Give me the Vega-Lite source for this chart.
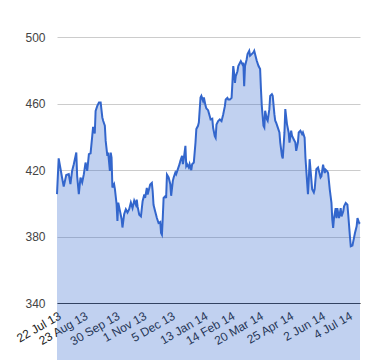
{
  "$schema": "https://vega.github.io/schema/vega-lite/v6.json",
  "autosize": "none",
  "width": 303,
  "height": 266,
  "padding": {"left": 57, "top": 37, "right": 20, "bottom": 57},
  "background": "white",
  "config": {"view": {"stroke": null}, "font": "Liberation Sans"},
  "data": {"values": [
    {"date": "2013-07-22", "close": 405.5},
    {"date": "2013-07-24", "close": 427},
    {"date": "2013-07-28", "close": 415.5},
    {"date": "2013-07-30", "close": 410},
    {"date": "2013-08-02", "close": 417},
    {"date": "2013-08-05", "close": 417.5},
    {"date": "2013-08-07", "close": 411.5},
    {"date": "2013-08-09", "close": 419.5},
    {"date": "2013-08-11", "close": 423.5},
    {"date": "2013-08-14", "close": 430.5},
    {"date": "2013-08-15", "close": 416.5},
    {"date": "2013-08-17", "close": 405.5},
    {"date": "2013-08-19", "close": 415.5},
    {"date": "2013-08-21", "close": 412.5},
    {"date": "2013-08-23", "close": 417.5},
    {"date": "2013-08-25", "close": 424.5},
    {"date": "2013-08-27", "close": 419.5},
    {"date": "2013-08-29", "close": 429.5},
    {"date": "2013-08-31", "close": 430},
    {"date": "2013-09-02", "close": 440.5},
    {"date": "2013-09-03", "close": 446},
    {"date": "2013-09-05", "close": 442},
    {"date": "2013-09-06", "close": 455.6},
    {"date": "2013-09-08", "close": 458.6},
    {"date": "2013-09-10", "close": 460.6},
    {"date": "2013-09-12", "close": 460.6},
    {"date": "2013-09-14", "close": 451.6},
    {"date": "2013-09-15", "close": 449.6},
    {"date": "2013-09-17", "close": 446.6},
    {"date": "2013-09-18", "close": 437.5},
    {"date": "2013-09-20", "close": 428.5},
    {"date": "2013-09-21", "close": 430.5},
    {"date": "2013-09-23", "close": 419.5},
    {"date": "2013-09-24", "close": 430.5},
    {"date": "2013-09-25", "close": 427.5},
    {"date": "2013-09-26", "close": 409.5},
    {"date": "2013-09-28", "close": 411.5},
    {"date": "2013-09-29", "close": 408.5},
    {"date": "2013-10-01", "close": 399.4},
    {"date": "2013-10-02", "close": 389.4},
    {"date": "2013-10-03", "close": 400.4},
    {"date": "2013-10-05", "close": 395.4},
    {"date": "2013-10-07", "close": 390.4},
    {"date": "2013-10-08", "close": 385.4},
    {"date": "2013-10-10", "close": 393.4},
    {"date": "2013-10-12", "close": 396.4},
    {"date": "2013-10-14", "close": 394.4},
    {"date": "2013-10-16", "close": 396.4},
    {"date": "2013-10-18", "close": 400.4},
    {"date": "2013-10-20", "close": 397.1},
    {"date": "2013-10-22", "close": 401.6},
    {"date": "2013-10-24", "close": 399.1},
    {"date": "2013-10-25", "close": 402.2},
    {"date": "2013-10-26", "close": 398.1},
    {"date": "2013-10-28", "close": 393.1},
    {"date": "2013-10-30", "close": 392.1},
    {"date": "2013-11-01", "close": 401.2},
    {"date": "2013-11-03", "close": 405.2},
    {"date": "2013-11-04", "close": 403.2},
    {"date": "2013-11-06", "close": 409.2},
    {"date": "2013-11-07", "close": 405.2},
    {"date": "2013-11-09", "close": 409.2},
    {"date": "2013-11-10", "close": 411.2},
    {"date": "2013-11-12", "close": 412.2},
    {"date": "2013-11-13", "close": 407.2},
    {"date": "2013-11-14", "close": 399.1},
    {"date": "2013-11-16", "close": 395.1},
    {"date": "2013-11-18", "close": 391.1},
    {"date": "2013-11-20", "close": 388.1},
    {"date": "2013-11-22", "close": 388.7},
    {"date": "2013-11-23", "close": 382.1},
    {"date": "2013-11-24", "close": 381.1},
    {"date": "2013-11-25", "close": 391.1},
    {"date": "2013-11-26", "close": 403.2},
    {"date": "2013-11-28", "close": 404.2},
    {"date": "2013-11-29", "close": 403.2},
    {"date": "2013-11-30", "close": 417.2},
    {"date": "2013-12-02", "close": 415.5},
    {"date": "2013-12-04", "close": 411.5},
    {"date": "2013-12-05", "close": 404.5},
    {"date": "2013-12-07", "close": 413.5},
    {"date": "2013-12-08", "close": 415.5},
    {"date": "2013-12-10", "close": 418.5},
    {"date": "2013-12-11", "close": 417.5},
    {"date": "2013-12-13", "close": 420.5},
    {"date": "2013-12-15", "close": 423.5},
    {"date": "2013-12-16", "close": 425.5},
    {"date": "2013-12-18", "close": 428.5},
    {"date": "2013-12-19", "close": 423.5},
    {"date": "2013-12-20", "close": 426.5},
    {"date": "2013-12-22", "close": 434.5},
    {"date": "2013-12-23", "close": 422.5},
    {"date": "2013-12-24", "close": 423.5},
    {"date": "2013-12-26", "close": 421.5},
    {"date": "2013-12-27", "close": 423.5},
    {"date": "2013-12-29", "close": 419.9},
    {"date": "2013-12-30", "close": 423.5},
    {"date": "2014-01-01", "close": 424.5},
    {"date": "2014-01-03", "close": 436.5},
    {"date": "2014-01-04", "close": 444.6},
    {"date": "2014-01-06", "close": 446.6},
    {"date": "2014-01-07", "close": 448.6},
    {"date": "2014-01-09", "close": 463.6},
    {"date": "2014-01-10", "close": 464.6},
    {"date": "2014-01-12", "close": 461.6},
    {"date": "2014-01-13", "close": 463.6},
    {"date": "2014-01-15", "close": 458.6},
    {"date": "2014-01-16", "close": 457},
    {"date": "2014-01-18", "close": 456},
    {"date": "2014-01-20", "close": 452.4},
    {"date": "2014-01-21", "close": 450.4},
    {"date": "2014-01-23", "close": 450.8},
    {"date": "2014-01-24", "close": 445.4},
    {"date": "2014-01-26", "close": 440.4},
    {"date": "2014-01-27", "close": 439.4},
    {"date": "2014-01-28", "close": 447.4},
    {"date": "2014-01-30", "close": 449.4},
    {"date": "2014-02-01", "close": 450.4},
    {"date": "2014-02-03", "close": 449.4},
    {"date": "2014-02-05", "close": 453.4},
    {"date": "2014-02-07", "close": 458.4},
    {"date": "2014-02-08", "close": 462.4},
    {"date": "2014-02-10", "close": 463.4},
    {"date": "2014-02-11", "close": 462.4},
    {"date": "2014-02-13", "close": 462.4},
    {"date": "2014-02-15", "close": 463.4},
    {"date": "2014-02-16", "close": 472.4},
    {"date": "2014-02-17", "close": 482.5},
    {"date": "2014-02-18", "close": 478.4},
    {"date": "2014-02-19", "close": 472.4},
    {"date": "2014-02-20", "close": 476.4},
    {"date": "2014-02-22", "close": 479.4},
    {"date": "2014-02-23", "close": 482.5},
    {"date": "2014-02-25", "close": 484.5},
    {"date": "2014-02-26", "close": 485.5},
    {"date": "2014-02-28", "close": 483.5},
    {"date": "2014-03-01", "close": 484.5},
    {"date": "2014-03-02", "close": 470.4},
    {"date": "2014-03-03", "close": 482.5},
    {"date": "2014-03-05", "close": 486.6},
    {"date": "2014-03-06", "close": 489.7},
    {"date": "2014-03-08", "close": 491.7},
    {"date": "2014-03-09", "close": 488.7},
    {"date": "2014-03-11", "close": 489.7},
    {"date": "2014-03-13", "close": 490.7},
    {"date": "2014-03-14", "close": 491.7},
    {"date": "2014-03-16", "close": 487.7},
    {"date": "2014-03-17", "close": 485.7},
    {"date": "2014-03-19", "close": 482.7},
    {"date": "2014-03-21", "close": 480.7},
    {"date": "2014-03-22", "close": 468.6},
    {"date": "2014-03-23", "close": 458.6},
    {"date": "2014-03-25", "close": 446.6},
    {"date": "2014-03-26", "close": 445.6},
    {"date": "2014-03-27", "close": 455.6},
    {"date": "2014-03-29", "close": 450.6},
    {"date": "2014-03-30", "close": 449.6},
    {"date": "2014-04-01", "close": 456.6},
    {"date": "2014-04-02", "close": 464.6},
    {"date": "2014-04-04", "close": 465.6},
    {"date": "2014-04-05", "close": 464.6},
    {"date": "2014-04-07", "close": 453.6},
    {"date": "2014-04-08", "close": 449.6},
    {"date": "2014-04-09", "close": 448.6},
    {"date": "2014-04-11", "close": 445.6},
    {"date": "2014-04-13", "close": 442.6},
    {"date": "2014-04-14", "close": 436.5},
    {"date": "2014-04-16", "close": 428.5},
    {"date": "2014-04-17", "close": 427},
    {"date": "2014-04-19", "close": 442.6},
    {"date": "2014-04-20", "close": 456.6},
    {"date": "2014-04-22", "close": 447.6},
    {"date": "2014-04-24", "close": 442.6},
    {"date": "2014-04-25", "close": 436.5},
    {"date": "2014-04-27", "close": 443.6},
    {"date": "2014-04-28", "close": 440.6},
    {"date": "2014-04-30", "close": 438.5},
    {"date": "2014-05-02", "close": 436.5},
    {"date": "2014-05-03", "close": 431.5},
    {"date": "2014-05-05", "close": 436.5},
    {"date": "2014-05-06", "close": 442.6},
    {"date": "2014-05-08", "close": 443.6},
    {"date": "2014-05-10", "close": 441.6},
    {"date": "2014-05-11", "close": 442.6},
    {"date": "2014-05-13", "close": 439.5},
    {"date": "2014-05-14", "close": 427.5},
    {"date": "2014-05-16", "close": 412.5},
    {"date": "2014-05-17", "close": 405.5},
    {"date": "2014-05-18", "close": 414.5},
    {"date": "2014-05-19", "close": 426.5},
    {"date": "2014-05-21", "close": 414.5},
    {"date": "2014-05-22", "close": 408.5},
    {"date": "2014-05-24", "close": 406.5},
    {"date": "2014-05-25", "close": 408.5},
    {"date": "2014-05-27", "close": 420.5},
    {"date": "2014-05-29", "close": 421.5},
    {"date": "2014-05-30", "close": 419.5},
    {"date": "2014-06-01", "close": 415.5},
    {"date": "2014-06-02", "close": 416.2},
    {"date": "2014-06-04", "close": 423.2},
    {"date": "2014-06-06", "close": 418.2},
    {"date": "2014-06-07", "close": 420.2},
    {"date": "2014-06-09", "close": 419.2},
    {"date": "2014-06-10", "close": 418.2},
    {"date": "2014-06-12", "close": 408.2},
    {"date": "2014-06-14", "close": 400.2},
    {"date": "2014-06-15", "close": 390.1},
    {"date": "2014-06-16", "close": 385.1},
    {"date": "2014-06-17", "close": 391.1},
    {"date": "2014-06-19", "close": 397.1},
    {"date": "2014-06-20", "close": 391.1},
    {"date": "2014-06-21", "close": 397.1},
    {"date": "2014-06-23", "close": 391.1},
    {"date": "2014-06-25", "close": 397.1},
    {"date": "2014-06-26", "close": 392.1},
    {"date": "2014-06-28", "close": 395.1},
    {"date": "2014-06-29", "close": 398.1},
    {"date": "2014-07-01", "close": 400.2},
    {"date": "2014-07-03", "close": 399.1},
    {"date": "2014-07-04", "close": 393.1},
    {"date": "2014-07-06", "close": 380.1},
    {"date": "2014-07-07", "close": 374.1},
    {"date": "2014-07-09", "close": 374.5},
    {"date": "2014-07-10", "close": 377.1},
    {"date": "2014-07-12", "close": 382.1},
    {"date": "2014-07-14", "close": 386.1},
    {"date": "2014-07-15", "close": 391.1},
    {"date": "2014-07-17", "close": 388.1},
    {"date": "2014-07-18", "close": 388.6}
  ]},
  "mark": {
    "type": "area",
    "color": "#3366cc",
    "fillOpacity": 0.3,
    "line": {"color": "#3366cc", "strokeWidth": 2}
  },
  "encoding": {
    "x": {
      "field": "date",
      "type": "temporal",
      "scale": {"type": "utc", "nice": false},
      "axis": {
        "title": null,
        "values": [
          {"year": 2013, "month": 7, "date": 22, "utc": true},
          {"year": 2013, "month": 8, "date": 23, "utc": true},
          {"year": 2013, "month": 9, "date": 30, "utc": true},
          {"year": 2013, "month": 11, "date": 1, "utc": true},
          {"year": 2013, "month": 12, "date": 5, "utc": true},
          {"year": 2014, "month": 1, "date": 13, "utc": true},
          {"year": 2014, "month": 2, "date": 14, "utc": true},
          {"year": 2014, "month": 3, "date": 20, "utc": true},
          {"year": 2014, "month": 4, "date": 25, "utc": true},
          {"year": 2014, "month": 6, "date": 2, "utc": true},
          {"year": 2014, "month": 7, "date": 4, "utc": true}
        ],
        "format": "%-d %b %y",
        "labelAngle": -30,
        "labelAlign": "right",
        "labelBaseline": "top",
        "labelFontSize": 12,
        "labelColor": "#222222",
        "labelPadding": 7,
        "labelOverlap": false,
        "labelBound": false,
        "labelFlush": false,
        "ticks": false,
        "grid": false,
        "domainColor": "#333333",
        "domainWidth": 1
      }
    },
    "y": {
      "field": "close",
      "type": "quantitative",
      "scale": {"domain": [340, 500], "zero": false, "nice": false},
      "axis": {
        "title": null,
        "values": [340, 380, 420, 460, 500],
        "labelFontSize": 12,
        "labelColor": "#444444",
        "labelPadding": 12,
        "ticks": false,
        "domain": false,
        "gridColor": "#cccccc",
        "gridOpacity": 1
      }
    }
  }
}
